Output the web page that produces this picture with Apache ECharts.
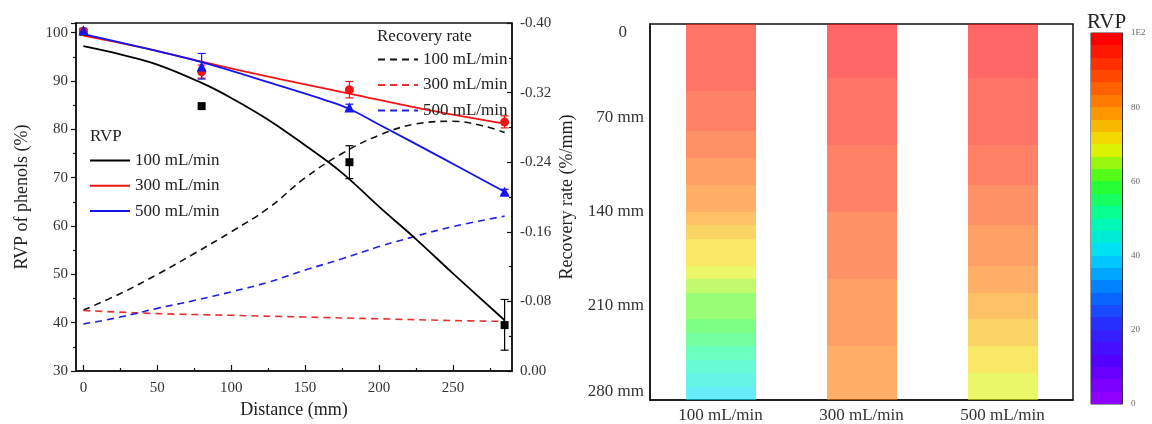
<!DOCTYPE html>
<html><head><meta charset="utf-8">
<script src="https://cdn.jsdelivr.net/npm/echarts@6/dist/echarts.min.js"></script>
<style>html,body{margin:0;padding:0;background:#fff}#c{width:1152px;height:424px}</style>
</head><body><div id="c"></div>
<script>
const flowLabels = ['100 mL/min', '300 mL/min', '500 mL/min'];
const xTickValues = [0, 50, 100, 150, 200, 250];
const xMinorTickValues = [25, 75, 125, 175, 225, 275];

// measured RVP points [distance (mm), RVP (%)]
const rvpPts100 = [[0, 100.2], [80, 84.8], [180, 73.2], [285, 39.5]];
const rvpPts300 = [[0, 100.3], [80, 91.9], [180, 88.2], [285, 81.5]];
const rvpPts500 = [[0, 100.5], [80, 93.0], [180, 84.5], [285, 67.1]];
// error bars [distance, low, high]
const err100 = [[180, 69.8, 76.6], [285, 34.3, 44.8]];
const err300 = [[80, 90.6, 93.3], [180, 86.5, 89.9], [285, 80.3, 82.8]];
const err500 = [[80, 90.4, 95.7], [180, 83.8, 85.2], [285, 66.6, 67.6]];
// fitted RVP curves
const fit100 = [[0, 97.2], [25, 95.5], [50, 93.4], [80, 89.6], [100, 86.5], [125, 82.0], [150, 76.7], [175, 71.0], [200, 64.0], [225, 57.3], [250, 50.2], [285, 40.5]];
const fit300 = [[0, 99.4], [40, 96.9], [80, 94.0], [133, 90.4], [180, 87.4], [230, 84.2], [285, 81.2]];
const fit500 = [[0, 99.7], [40, 96.9], [80, 93.9], [133, 89.0], [165, 85.9], [180, 84.2], [200, 81.0], [240, 74.5], [285, 67.1]];
// recovery rate (%/mm)
const rate100 = [[0, -0.070], [25, -0.089], [50, -0.111], [75, -0.135], [100, -0.160], [125, -0.187], [150, -0.222], [175, -0.250], [200, -0.271], [225, -0.284], [250, -0.287], [270, -0.282], [285, -0.274]];
const rate300 = [[0, -0.0695], [50, -0.066], [100, -0.064], [150, -0.062], [200, -0.060], [250, -0.058], [285, -0.057]];
const rate500 = [[0, -0.054], [25, -0.062], [50, -0.072], [75, -0.081], [100, -0.091], [125, -0.102], [150, -0.116], [175, -0.129], [200, -0.143], [225, -0.155], [250, -0.166], [285, -0.178]];

// heat map: rows of 10 mm, top edge of each row
const depthRowTops = [0, 10, 20, 30, 40, 50, 60, 70, 80, 90, 100, 110, 120, 130, 140, 150, 160, 170, 180, 190, 200, 210, 220, 230, 240, 250, 260, 270];
const rowHeight = 10;
const heat100 = [96.5, 96.2, 95.5, 94.7, 93.9, 92.9, 91.8, 90.3, 88.9, 87.3, 85.7, 83.9, 82.0, 80.0, 77.8, 75.6, 73.3, 71.0, 68.4, 65.5, 62.7, 60.0, 57.3, 54.4, 51.6, 48.8, 46.0, 43.2];
const heat300 = [98.7, 98.0, 97.4, 96.7, 96.1, 95.4, 94.7, 94.1, 93.4, 92.8, 92.1, 91.5, 90.8, 90.2, 89.5, 88.8, 88.2, 87.5, 86.9, 86.2, 85.6, 84.9, 84.3, 83.6, 83.0, 82.3, 81.6, 81.0];
const heat500 = [99.4, 98.7, 98.0, 97.3, 96.6, 95.9, 95.1, 94.3, 93.4, 92.5, 91.5, 90.5, 89.4, 88.3, 87.2, 86.1, 84.8, 83.5, 82.1, 80.7, 79.3, 77.8, 76.3, 74.8, 73.2, 71.5, 69.8, 68.1];
const colorbarLevels = [0, 3.33, 6.67, 10, 13.33, 16.67, 20, 23.33, 26.67, 30, 33.33, 36.67, 40, 43.33, 46.67, 50, 53.33, 56.67, 60, 63.33, 66.67, 70, 73.33, 76.67, 80, 83.33, 86.67, 90, 93.33, 96.67, 100];
const rainbow = ['#9000ff', '#5400ff', '#2a2aff', '#0078ff', '#00dcff', '#00ffa8', '#2cff20', '#f0f000', '#ff9000', '#ff4400', '#ff0000'];

const FONT = 'Liberation Serif';
const heatData = [];
[heat100, heat300, heat500].forEach((arr, ci) => {
  arr.forEach((v, i) => heatData.push([ci, depthRowTops[i], depthRowTops[i] + rowHeight, v]));
});
const cbData = [];
for (let i = 0; i < colorbarLevels.length - 1; i++) {
  cbData.push([0, colorbarLevels[i], colorbarLevels[i + 1], (colorbarLevels[i] + colorbarLevels[i + 1]) / 2]);
}

function errorBars(data, color) {
  return {
    type: 'custom', xAxisIndex: 0, yAxisIndex: 0, data: data, z: 4, silent: true,
    encode: { x: 0, y: [1, 2] },
    renderItem(params, api) {
      const x = api.value(0);
      const lo = api.coord([x, api.value(1)]), hi = api.coord([x, api.value(2)]);
      const hw = 4, st = { stroke: color, lineWidth: 1.2 };
      return { type: 'group', children: [
        { type: 'line', shape: { x1: lo[0], y1: lo[1], x2: hi[0], y2: hi[1] }, style: st },
        { type: 'line', shape: { x1: lo[0] - hw, y1: lo[1], x2: lo[0] + hw, y2: lo[1] }, style: st },
        { type: 'line', shape: { x1: hi[0] - hw, y1: hi[1], x2: hi[0] + hw, y2: hi[1] }, style: st }
      ] };
    }
  };
}
const axisLineStyle = { color: '#111', width: 1.5 };
const tickLbl = { fontFamily: FONT, fontSize: 15, color: '#333' };
const nameStyle = { fontFamily: FONT, fontSize: 18, color: '#222' };
const hiddenSymbol = { color: 'rgba(0,0,0,0)', borderWidth: 0, opacity: 0 };

const chart = echarts.init(document.getElementById('c'), null, { renderer: 'canvas' });
chart.setOption({
  animation: false,
  backgroundColor: '#fff',
  title: [
    { text: 'RVP', left: 85, top: 123, textStyle: { fontFamily: FONT, fontSize: 17, fontWeight: 'normal', color: '#222' } },
    { text: 'Recovery rate', left: 372, top: 23, textStyle: { fontFamily: FONT, fontSize: 17, fontWeight: 'normal', color: '#222' } },
    { text: 'RVP', left: 1082, top: 7, textStyle: { fontFamily: FONT, fontSize: 21, fontWeight: 'normal', color: '#222' } }
  ],
  legend: [
    { orient: 'vertical', left: 84, top: 147, itemWidth: 40, itemHeight: 14, itemGap: 8.3,
      data: ['RVP 100 mL/min', 'RVP 300 mL/min', 'RVP 500 mL/min'],
      formatter: n => n.replace('RVP ', ''), itemStyle: hiddenSymbol,
      textStyle: { fontFamily: FONT, fontSize: 17, color: '#222', lineHeight: 14 } },
    { orient: 'vertical', left: 372, top: 46, itemWidth: 40, itemHeight: 14, itemGap: 8.5,
      data: ['Rate 100 mL/min', 'Rate 300 mL/min', 'Rate 500 mL/min'],
      formatter: n => n.replace('Rate ', ''), itemStyle: hiddenSymbol,
      textStyle: { fontFamily: FONT, fontSize: 17, color: '#222', lineHeight: 14 } }
  ],
  grid: [
    { left: 76, top: 23, width: 436, height: 352, show: true, borderColor: '#111', borderWidth: 1.5, backgroundColor: 'transparent' },
    { left: 650, top: 24, width: 423, height: 378, show: true, borderColor: '#111', borderWidth: 1.5, backgroundColor: 'transparent' },
    { left: 1091, top: 33, width: 31, height: 371, show: true, borderColor: '#333', borderWidth: 1, backgroundColor: 'transparent' }
  ],
  xAxis: [
    { type: 'value', gridIndex: 0, min: -5, max: 290, name: 'Distance (mm)', nameLocation: 'middle', nameGap: 30, nameTextStyle: nameStyle,
      splitLine: { show: false }, axisLine: { onZero: false, lineStyle: axisLineStyle },
      axisTick: { inside: true, length: 6, lineStyle: { color: '#111', width: 1.2 }, customValues: xTickValues },
      axisLabel: { ...tickLbl, margin: 10, customValues: xTickValues } },
    { type: 'value', gridIndex: 0, min: -5, max: 290, position: 'bottom',
      splitLine: { show: false }, axisLine: { show: false, onZero: false },
      axisTick: { inside: true, length: 3, lineStyle: { color: '#111', width: 1.2 }, customValues: xMinorTickValues },
      axisLabel: { show: false } },
    { type: 'category', gridIndex: 1, data: flowLabels, axisTick: { show: false }, axisLine: { onZero: false, lineStyle: axisLineStyle },
      axisLabel: { fontFamily: FONT, fontSize: 17, color: '#333', margin: 7 } },
    { type: 'category', gridIndex: 2, data: ['c'], show: false }
  ],
  yAxis: [
    { type: 'value', gridIndex: 0, min: 30, max: 102, interval: 10, name: 'RVP of phenols (%)', nameLocation: 'middle', nameGap: 45, nameTextStyle: nameStyle,
      splitLine: { show: false }, axisLine: { show: true, onZero: false, lineStyle: axisLineStyle },
      axisTick: { inside: false, length: 5, lineStyle: { color: '#111', width: 1.2 } },
      minorTick: { show: true, splitNumber: 2, length: 3, lineStyle: { color: '#111', width: 1.2 } },
      axisLabel: { ...tickLbl, margin: 8, showMaxLabel: false } },
    { type: 'value', gridIndex: 0, position: 'right', min: -0.4, max: 0, interval: 0.08, inverse: true,
      name: 'Recovery rate (%/mm)', nameLocation: 'middle', nameGap: 46, nameRotate: 90, nameTextStyle: nameStyle,
      splitLine: { show: false }, axisLine: { show: true, onZero: false, lineStyle: axisLineStyle },
      axisTick: { inside: true, length: 5, lineStyle: { color: '#111', width: 1.2 } },
      minorTick: { show: true, splitNumber: 2, length: 3, lineStyle: { color: '#111', width: 1.2 } },
      axisLabel: { ...tickLbl, margin: 8, formatter: v => v.toFixed(2) } },
    { type: 'value', gridIndex: 1, min: 0, max: 280, interval: 70, inverse: true,
      splitLine: { show: false }, axisLine: { show: true, onZero: false, lineStyle: axisLineStyle },
      axisTick: { inside: true, length: 6, lineStyle: { color: '#111', width: 1.5 } },
      axisLabel: { fontFamily: FONT, fontSize: 17, color: '#333', margin: 6,
        verticalAlignMinLabel: 'top', verticalAlignMaxLabel: 'bottom',
        formatter: v => v === 0 ? '{z|0}' : v + ' mm',
        rich: { z: { fontFamily: FONT, fontSize: 17, color: '#333', padding: [0, 17, 0, 0] } } } },
    { type: 'value', gridIndex: 2, position: 'right', min: 0, max: 100, interval: 20,
      splitLine: { show: false }, axisLine: { show: true, onZero: false, lineStyle: { color: '#333', width: 1 } },
      axisTick: { inside: false, length: 5, lineStyle: { color: '#333', width: 1.2 } },
      axisLabel: { fontFamily: FONT, fontSize: 9, color: '#666', margin: 9, formatter: v => v === 100 ? '1E2' : String(v) } }
  ],
  visualMap: {
    type: 'piecewise', show: false, min: 0, max: 100, splitNumber: 30, dimension: 3,
    seriesIndex: [12, 13], inRange: { color: rainbow }
  },
  series: [
    { name: 'RVP 100 mL/min', type: 'line', xAxisIndex: 0, yAxisIndex: 0, data: fit100, smooth: 0.4, symbol: 'none', lineStyle: { color: '#000', width: 1.8 }, itemStyle: { color: '#000' }, z: 3 },
    { name: 'RVP 300 mL/min', type: 'line', xAxisIndex: 0, yAxisIndex: 0, data: fit300, smooth: 0.4, symbol: 'none', lineStyle: { color: '#f01414', width: 1.8 }, itemStyle: { color: '#f01414' }, z: 3 },
    { name: 'RVP 500 mL/min', type: 'line', xAxisIndex: 0, yAxisIndex: 0, data: fit500, smooth: 0.4, symbol: 'none', lineStyle: { color: '#1414f0', width: 1.8 }, itemStyle: { color: '#1414f0' }, z: 3 },
    { name: 'Rate 100 mL/min', type: 'line', xAxisIndex: 0, yAxisIndex: 1, data: rate100, smooth: 0.4, symbol: 'none', lineStyle: { color: '#111', width: 1.6, type: [7, 5] }, itemStyle: { color: '#111' }, z: 2 },
    { name: 'Rate 300 mL/min', type: 'line', xAxisIndex: 0, yAxisIndex: 1, data: rate300, smooth: 0.4, symbol: 'none', lineStyle: { color: '#e83030', width: 1.6, type: [7, 5] }, itemStyle: { color: '#e83030' }, z: 2 },
    { name: 'Rate 500 mL/min', type: 'line', xAxisIndex: 0, yAxisIndex: 1, data: rate500, smooth: 0.4, symbol: 'none', lineStyle: { color: '#2020e0', width: 1.6, type: [7, 5] }, itemStyle: { color: '#2020e0' }, z: 2 },
    errorBars(err100, '#000'),
    errorBars(err300, '#f01414'),
    errorBars(err500, '#1414f0'),
    { name: 'pts100', type: 'scatter', xAxisIndex: 0, yAxisIndex: 0, data: rvpPts100, symbol: 'rect', symbolSize: 8, itemStyle: { color: '#000', opacity: 1 }, z: 5 },
    { name: 'pts300', type: 'scatter', xAxisIndex: 0, yAxisIndex: 0, data: rvpPts300, symbol: 'circle', symbolSize: 9, itemStyle: { color: '#f01414', opacity: 1 }, z: 6 },
    { name: 'pts500', type: 'scatter', xAxisIndex: 0, yAxisIndex: 0, data: rvpPts500, symbol: 'triangle', symbolSize: 10, itemStyle: { color: '#1414f0', opacity: 1 }, z: 7 },
    {
      name: 'heat', type: 'custom', xAxisIndex: 2, yAxisIndex: 2, data: heatData, encode: { x: 0, y: [1, 2] }, silent: true,
      renderItem(params, api) {
        const c = api.value(0);
        const p0 = api.coord([c, api.value(1)]), p1 = api.coord([c, api.value(2)]);
        const w = api.size([1, 0])[0] * 0.495;
        const yA = Math.round(Math.min(p0[1], p1[1])), yB = Math.round(Math.max(p0[1], p1[1]));
        return { type: 'rect', shape: { x: Math.round(p0[0] - w / 2), y: yA, width: Math.round(w), height: yB - yA },
          style: { fill: api.visual('color'), opacity: 0.6 } };
      }
    },
    {
      name: 'colorbar', type: 'custom', xAxisIndex: 3, yAxisIndex: 3, data: cbData, encode: { x: 0, y: [1, 2] }, silent: true,
      renderItem(params, api) {
        const p0 = api.coord([0, api.value(1)]), p1 = api.coord([0, api.value(2)]);
        const w = api.size([1, 0])[0];
        const yA = Math.round(Math.min(p0[1], p1[1])), yB = Math.round(Math.max(p0[1], p1[1]));
        return { type: 'rect', shape: { x: p0[0] - w / 2, y: yA, width: w, height: yB - yA },
          style: { fill: api.visual('color') } };
      }
    }
  ]
});
</script></body></html>
